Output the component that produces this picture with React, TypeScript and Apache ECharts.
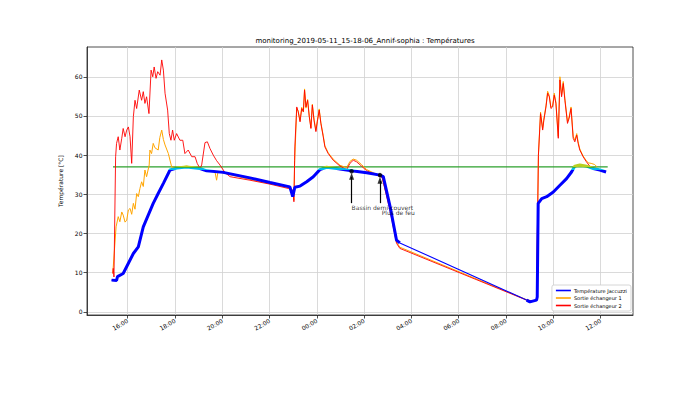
import React, { useEffect, useRef } from 'react';
import * as echarts from 'echarts';

const chartTitle = 'monitoring_2019-05-11_15-18-06_Annif-sophia : Températures';
const yAxisName = 'Température [°C]';
const seriesNames = ['Température Jaccuzzi', 'Sortie échangeur 1', 'Sortie échangeur 2'];
// hours since 2019-05-11 00:00
const xTickValues = [16, 18, 20, 22, 24, 26, 28, 30, 32, 34, 36];
const yTickValues = [0, 10, 20, 30, 40, 50, 60];
const consigneValue = 37;
const consigneSpan = [15.38, 36.3];

const jacuzzi: [number, number][] = [
  [15.32, 8.1], [15.53, 8.0], [15.57, 9.0], [15.81, 9.8], [16.24, 14.9], [16.45, 16.6],
  [16.66, 21.7], [16.87, 24.7], [17.08, 27.7], [17.29, 30.2], [17.51, 32.8], [17.79, 36.2],
  [18.07, 36.7], [18.49, 37.0], [19.06, 36.6], [19.34, 36.0], [20.04, 35.6], [21.17, 34.2],
  [22.02, 33.0], [22.86, 31.9], [22.98, 29.4], [23.07, 31.8], [23.29, 32.1], [23.57, 33.2],
  [23.85, 34.5], [24.13, 36.3], [24.41, 36.9], [24.84, 36.6], [25.47, 36.0], [26.11, 35.5],
  [26.67, 34.9], [26.81, 34.5], [27.1, 26.8], [27.37, 18.3], [27.51, 17.6],
  [32.87, 3.0], [33.01, 2.55], [33.29, 3.0], [33.32, 3.8], [33.36, 27.7], [33.51, 28.9],
  [33.72, 29.4], [34.0, 30.6], [34.28, 32.3], [34.56, 34.0], [34.77, 35.7], [34.91, 37.2],
  [35.12, 37.5], [35.41, 37.2], [35.69, 36.6], [35.97, 36.2], [36.23, 35.7],
];

const sortie1: [number, number][] = [
  [15.37, 9.8], [15.51, 21.7], [15.6, 24.3], [15.67, 23.0], [15.75, 25.5], [15.81, 24.7],
  [15.89, 22.9], [15.96, 23.4], [16.03, 26.0], [16.1, 26.4], [16.17, 24.9], [16.24, 27.7],
  [16.31, 26.2], [16.38, 30.2], [16.45, 29.4], [16.52, 31.5], [16.59, 33.2], [16.66, 32.0],
  [16.73, 36.2], [16.8, 34.5], [16.91, 37.5], [16.94, 41.3], [17.01, 40.4], [17.08, 43.0],
  [17.15, 41.9], [17.29, 41.3], [17.36, 44.5], [17.44, 46.4], [17.51, 44.0], [17.58, 42.6],
  [17.72, 40.4], [17.86, 37.0], [18.07, 36.8], [18.49, 37.2], [19.06, 36.6], [19.34, 36.1],
  [19.69, 35.8], [19.76, 33.6], [19.82, 35.8], [20.33, 35.0], [21.17, 33.8], [22.02, 32.7],
  [22.86, 31.6], [22.98, 31.0], [23.03, 28.5], [23.06, 38.0], [23.15, 52.0], [23.21, 51.3],
  [23.29, 48.8], [23.36, 52.2], [23.43, 51.0], [23.48, 56.9], [23.54, 52.0], [23.61, 54.2],
  [23.68, 50.0], [23.75, 47.0], [23.81, 53.0], [23.88, 49.2], [23.96, 46.3], [24.02, 48.8],
  [24.1, 51.8], [24.17, 48.3], [24.27, 45.0], [24.34, 42.4], [24.48, 40.6], [24.69, 39.0],
  [24.98, 37.4], [25.26, 36.8], [25.4, 38.4], [25.54, 39.0], [25.68, 38.7], [25.89, 37.6],
  [26.11, 36.3], [26.53, 35.1], [26.76, 34.4], [27.09, 26.5], [27.37, 17.8], [27.51, 16.5],
  [32.87, 3.1], [33.15, 2.7], [33.29, 3.2], [33.37, 40.0], [33.46, 51.0], [33.55, 46.8],
  [33.6, 49.2], [33.69, 52.6], [33.76, 56.3], [33.83, 55.2], [33.9, 52.2], [33.97, 52.6],
  [34.04, 55.8], [34.11, 53.5], [34.21, 44.8], [34.28, 60.0], [34.35, 55.3], [34.42, 58.8],
  [34.49, 54.4], [34.6, 48.5], [34.67, 49.8], [34.75, 52.3], [34.84, 44.8], [34.91, 43.8],
  [34.99, 45.5], [35.05, 43.4], [35.12, 41.6], [35.26, 39.8], [35.4, 38.5], [35.5, 38.0],
  [35.6, 37.9], [35.75, 37.6], [35.85, 37.0],
];

const sortie2: [number, number][] = [
  [15.37, 9.8], [15.39, 11.1], [15.42, 8.9], [15.49, 39.6], [15.53, 43.0], [15.6, 44.7],
  [15.67, 41.3], [15.75, 44.3], [15.81, 46.8], [15.89, 44.7], [15.96, 46.4], [16.03, 47.2],
  [16.1, 44.7], [16.17, 37.9], [16.24, 49.8], [16.31, 54.0], [16.38, 51.9], [16.49, 56.6],
  [16.59, 54.0], [16.66, 56.2], [16.73, 53.2], [16.8, 54.9], [16.9, 50.6], [16.99, 61.7],
  [17.06, 60.0], [17.12, 62.5], [17.2, 59.6], [17.27, 61.3], [17.37, 60.4], [17.44, 64.3],
  [17.51, 61.7], [17.58, 55.8], [17.69, 51.5], [17.76, 45.5], [17.83, 43.8], [17.9, 46.4],
  [17.97, 43.8], [18.07, 45.5], [18.21, 43.8], [18.33, 43.8], [18.42, 40.4], [18.56, 41.3],
  [18.71, 39.6], [18.85, 39.6], [18.94, 37.9], [19.06, 36.6], [19.13, 37.5], [19.27, 43.2],
  [19.37, 43.4], [19.48, 41.7], [19.62, 40.0], [19.76, 38.6], [19.9, 37.5], [20.11, 35.6],
  [20.33, 34.5], [21.17, 33.6], [22.02, 32.6], [22.79, 31.5], [22.98, 31.1], [23.03, 28.1],
  [23.06, 38.7], [23.07, 42.1], [23.15, 52.3], [23.21, 51.1], [23.29, 48.5], [23.36, 51.9],
  [23.43, 51.1], [23.48, 56.6], [23.54, 52.3], [23.61, 54.0], [23.68, 49.8], [23.75, 46.8],
  [23.81, 52.8], [23.88, 48.9], [23.96, 46.0], [24.02, 48.5], [24.1, 51.5], [24.17, 48.1],
  [24.27, 44.7], [24.34, 42.1], [24.48, 40.4], [24.69, 38.7], [24.98, 37.2], [25.26, 36.3],
  [25.4, 37.9], [25.54, 38.7], [25.68, 38.3], [25.89, 37.2], [26.11, 36.0], [26.53, 34.9],
  [26.76, 34.3], [27.09, 26.0], [27.37, 17.5], [27.51, 16.2],
  [32.87, 3.0], [33.15, 2.8], [33.29, 3.2], [33.37, 40.0], [33.46, 50.6], [33.55, 46.4],
  [33.6, 48.9], [33.69, 52.3], [33.76, 55.8], [33.83, 54.9], [33.9, 51.9], [33.97, 52.3],
  [34.04, 55.3], [34.11, 53.2], [34.21, 44.3], [34.28, 59.2], [34.35, 54.9], [34.42, 58.3],
  [34.49, 54.0], [34.6, 48.1], [34.67, 49.4], [34.75, 51.9], [34.84, 44.3], [34.91, 43.4],
  [34.99, 45.1], [35.05, 43.0], [35.12, 41.3], [35.26, 39.6], [35.4, 38.3], [35.54, 37.2],
  [35.75, 36.6], [35.97, 36.3],
];

const annotationLabels = ['Bassin demi-couvert', 'Plus de feu'];
const annotationPoints: [number, number][] = [[25.47, 35.9], [26.67, 34.9]];
const annotationTails: [number, number][] = [[25.47, 27.75], [26.67, 27.75]];
const annotationTexts: [number, number][] = [[25.47, 26.55], [26.74, 25.4]];

const FONT = 'DejaVu Sans';

function fmtHour(v: number) {
  const h = Math.round(v) % 24;
  return (h < 10 ? '0' : '') + h + ':00';
}

export default function App() {
  const ref = useRef<HTMLDivElement>(null);
  useEffect(() => {
    if (!ref.current) return;
    const chart = echarts.init(ref.current, null, { renderer: 'svg' });

    // thick overlay of the jacuzzi trace, broken where there is a gap in recording
    const thick: any[] = [];
    jacuzzi.forEach((p, i) => {
      if (i > 0 && p[0] - jacuzzi[i - 1][0] > 2) thick.push([null, null]);
      thick.push(p);
    });

    const option: any = {
      animation: false,
      backgroundColor: '#ffffff',
      title: {
        text: chartTitle,
        left: 360,
        textAlign: 'center',
        top: 32,
        textStyle: { fontFamily: FONT, fontSize: 7, fontWeight: 'normal', color: '#000' },
      },
      grid: {
        left: 87, right: 67, top: 47, bottom: 78,
        show: true, borderColor: '#222', borderWidth: 0.8, backgroundColor: 'transparent',
      },
      legend: {
        data: seriesNames,
        orient: 'vertical',
        right: 69,
        bottom: 82,
        icon: 'rect',
        itemWidth: 15,
        itemHeight: 1.6,
        itemGap: 2.5,
        padding: [3, 4, 3, 4],
        backgroundColor: '#fff',
        borderColor: '#ccc',
        borderWidth: 0.8,
        borderRadius: 2,
        textStyle: { fontFamily: FONT, fontSize: 5, color: '#000', padding: [0, 0, 0, -2] },
      },
      visualMap: {
        show: false,
        type: 'piecewise',
        seriesIndex: 3,
        dimension: 1,
        pieces: [
          { lt: 36.1, color: '#0000ff' },
          { gte: 36.1, lt: 36.6, color: '#00b8f0' },
          { gte: 36.6, lt: 37.1, color: '#30b040' },
          { gte: 37.1, color: '#b8d020' },
        ],
      },
      xAxis: {
        type: 'value',
        min: 14.28,
        max: 37.37,
        axisLine: { show: true, onZero: false, lineStyle: { color: '#222', width: 0.8 } },
        axisTick: { show: true, length: 3.5, customValues: xTickValues, lineStyle: { color: '#222', width: 0.8 } },
        axisLabel: {
          customValues: xTickValues,
          formatter: (v: number) => fmtHour(v),
          rotate: 30,
          margin: 5,
          fontFamily: FONT, fontSize: 6, color: '#000',
        },
        splitLine: { show: true, lineStyle: { color: '#d0d0d0', width: 0.8 } },
      },
      yAxis: {
        type: 'value',
        min: -0.8,
        max: 67.6,
        name: yAxisName,
        nameLocation: 'middle',
        nameGap: 17,
        nameTextStyle: { fontFamily: FONT, fontSize: 6, color: '#000' },
        axisLine: { show: true, lineStyle: { color: '#222', width: 0.8 } },
        axisTick: { show: true, length: 3.5, customValues: yTickValues, lineStyle: { color: '#222', width: 0.8 } },
        axisLabel: {
          customValues: yTickValues,
          margin: 4.5,
          fontFamily: FONT, fontSize: 6, color: '#000',
        },
        splitLine: { show: true, lineStyle: { color: '#d0d0d0', width: 0.8 } },
      },
      series: [
        {
          name: seriesNames[0], type: 'line', data: jacuzzi, showSymbol: false, symbol: 'none',
          color: '#0000ff', lineStyle: { color: '#0000ff', width: 1.1 }, z: 5,
        },
        {
          name: seriesNames[1], type: 'line', data: sortie1, showSymbol: false, symbol: 'none',
          color: '#ffa500', lineStyle: { color: '#ffa500', width: 1 }, z: 3,
        },
        {
          name: seriesNames[2], type: 'line', data: sortie2, showSymbol: false, symbol: 'none',
          color: '#ff0000', lineStyle: { color: '#ff0000', width: 0.9 }, z: 4,
        },
        {
          name: 'jacuzzi-points', type: 'line', data: thick, showSymbol: false, symbol: 'none',
          connectNulls: false, lineStyle: { width: 3 }, z: 6,
        },
        {
          name: 'consigne', type: 'line', symbol: 'none', z: 2,
          data: [[consigneSpan[0], consigneValue], [consigneSpan[1], consigneValue]],
          color: '#2ca02c', lineStyle: { color: '#2ca02c', width: 1.1 },
        },
        {
          name: 'annot-points', type: 'scatter', z: 8, symbolSize: 4.5,
          itemStyle: { color: '#000' },
          data: annotationPoints,
          markLine: {
            silent: true,
            symbol: ['none', 'none'],
            label: { show: false },
            lineStyle: { color: '#000', width: 1.2, type: 'solid' },
            data: annotationPoints.map((p, i) => [
              { coord: annotationTails[i] },
              { coord: [p[0], p[1] - 1.5] },
            ]),
          },
        },
        {
          name: 'annot-heads', type: 'scatter', z: 8,
          symbol: 'triangle', symbolSize: [5, 7], symbolOffset: [0, '50%'],
          itemStyle: { color: '#000' },
          data: annotationPoints.map((p) => [p[0], p[1] - 0.4]),
        },
        {
          name: 'annot-texts', type: 'scatter', z: 9, symbolSize: 0.01,
          data: annotationTexts.map((p, i) => ({ value: p, name: annotationLabels[i] })),
          label: {
            show: true, position: 'right', distance: 0,
            formatter: (d: any) => d.name,
            fontFamily: FONT, fontSize: 6, color: '#000',
          },
        },
      ],
    };
    chart.setOption(option);
    return () => chart.dispose();
  }, []);
  return (
    <div
      ref={ref}
      style={{ position: 'fixed', left: 0, top: 0, width: 700, height: 393, background: '#fff' }}
    />
  );
}
